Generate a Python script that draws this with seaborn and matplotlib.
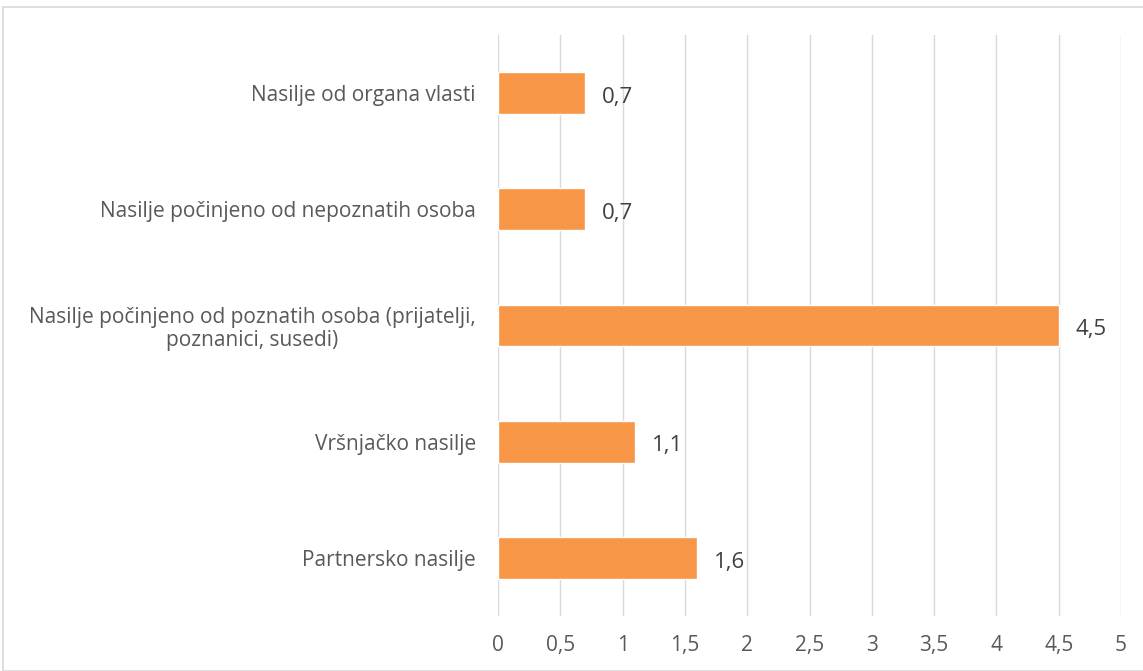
import pandas as pd
import seaborn as sns
import matplotlib.pyplot as plt
from matplotlib.patches import Rectangle

categories = ['Nasilje od organa vlasti',
              'Nasilje počinjeno od nepoznatih osoba',
              'Nasilje počinjeno od poznatih osoba (prijatelji,\npoznanici, susedi)',
              'Vršnjačko nasilje',
              'Partnersko nasilje']
values = [0.7, 0.7, 4.5, 1.1, 1.6]
xticks = [0, 0.5, 1, 1.5, 2, 2.5, 3, 3.5, 4, 4.5, 5]

df = pd.DataFrame({'cat': categories, 'val': values})

sns.set_style('white')
plt.rcParams['font.family'] = ['Open Sans', 'DejaVu Sans']

fig = plt.figure(figsize=(11.43, 6.71), dpi=100)
ax = fig.add_axes([0.4357, 0.082, 0.5451, 0.866])

sns.barplot(data=df, y='cat', x='val', color='#F79646', saturation=1, width=0.36, ax=ax)

ax.set_xlim(0, 5)
ax.set_xticks(xticks)
ax.set_xticklabels([str(t).replace('.', ',') for t in xticks])
ax.set_xlabel('')
ax.set_ylabel('')
ax.grid(axis='x', color='#D9D9D9', linewidth=1)
ax.set_axisbelow(True)
for s in ax.spines.values():
    s.set_visible(False)
ax.tick_params(axis='x', length=0, pad=14, labelsize=15, labelcolor='#595959')
ax.tick_params(axis='y', length=0, pad=16, labelsize=15, labelcolor='#595959')
for lbl in ax.get_yticklabels():
    lbl.set_horizontalalignment('right')
    lbl.set_multialignment('center')
    lbl.set_linespacing(1.1)

for c in ax.containers:
    anns = ax.bar_label(c, labels=[str(v).replace('.', ',') for v in values], padding=12,
                        fontsize=16, color='#404040')
    for a in anns:
        a.xyann = (12, -3)

fig.patches.append(Rectangle((3 / 1143, 0), 1.0, 1 - 7 / 671, transform=fig.transFigure,
                             fill=False, edgecolor='#D9D9D9', linewidth=1.2))

fig.savefig('out.png', dpi=100, facecolor='white')
